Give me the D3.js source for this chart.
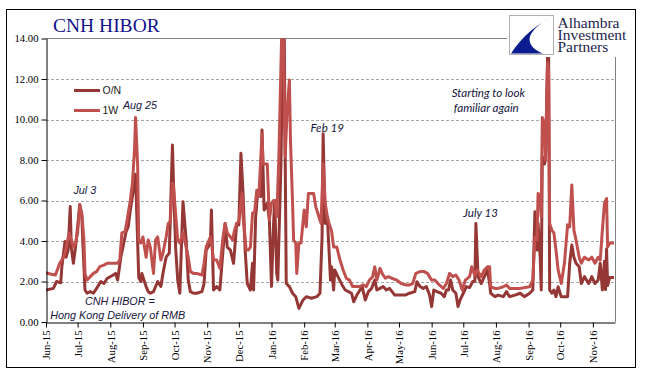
<!DOCTYPE html>
<html><head><meta charset="utf-8">
<script src="https://cdn.jsdelivr.net/npm/d3@7/dist/d3.min.js"></script>
<style>body{margin:0;background:#fff}</style>
</head><body>
<svg id="c" width="645" height="379"></svg>
<script>
const chartTitle = "CNH HIBOR";
const seriesNames = ["O/N", "1W"];
const yTicks = [0, 2, 4, 6, 8, 10, 12, 14];
const xStart = "2015-06-01", xEnd = "2016-11-22";
const logoLines = ["Alhambra", "Investment", "Partners"];

const onData = [["2015-06-01",1.58],["2015-06-08",1.66],["2015-06-11",2.0],["2015-06-15",1.94],["2015-06-16",2.7],["2015-06-19",3.97],["2015-06-20",3.2],["2015-06-22",3.55],["2015-06-24",5.7],["2015-06-25",3.7],["2015-06-27",2.9],["2015-06-29",3.7],["2015-07-01",4.7],["2015-07-03",5.8],["2015-07-05",5.2],["2015-07-06",3.9],["2015-07-08",1.58],["2015-07-10",1.42],["2015-07-13",1.5],["2015-07-16",1.42],["2015-07-19",1.66],["2015-07-21",1.83],["2015-07-23",2.0],["2015-07-26",1.9],["2015-07-29",2.15],["2015-08-03",2.3],["2015-08-06",2.4],["2015-08-08",2.07],["2015-08-11",3.2],["2015-08-13",3.7],["2015-08-16",4.46],["2015-08-18",4.7],["2015-08-20",5.5],["2015-08-22",6.2],["2015-08-24",6.85],["2015-08-25",7.3],["2015-08-28",2.2],["2015-08-30",2.0],["2015-08-31",2.4],["2015-09-02",2.07],["2015-09-04",1.75],["2015-09-06",1.5],["2015-09-08",1.42],["2015-09-11",1.5],["2015-09-15",2.0],["2015-09-18",1.75],["2015-09-20",2.4],["2015-09-23",3.2],["2015-09-26",3.4],["2015-09-29",8.74],["2015-09-30",6.85],["2015-10-02",3.7],["2015-10-04",2.07],["2015-10-06",1.42],["2015-10-09",5.94],["2015-10-12",4.05],["2015-10-14",2.07],["2015-10-16",1.5],["2015-10-19",1.42],["2015-10-22",1.42],["2015-10-27",1.5],["2015-10-29",1.9],["2015-10-31",3.55],["2015-11-04",3.9],["2015-11-05",5.53],["2015-11-07",1.58],["2015-11-10",1.75],["2015-11-13",1.58],["2015-11-16",3.55],["2015-11-18",4.87],["2015-11-20",3.7],["2015-11-23",3.55],["2015-11-26",2.9],["2015-11-29",4.87],["2015-12-01",4.8],["2015-12-03",8.33],["2015-12-05",6.35],["2015-12-07",3.55],["2015-12-09",1.9],["2015-12-12",1.58],["2015-12-14",2.9],["2015-12-15",1.58],["2015-12-17",5.2],["2015-12-19",6.5],["2015-12-22",6.2],["2015-12-23",9.48],["2015-12-25",5.53],["2015-12-28",5.86],["2015-12-30",5.04],["2016-01-01",1.75],["2016-01-03",4.87],["2016-01-04",6.0],["2016-01-06",2.4],["2016-01-07",2.07],["2016-01-10",7.8],["2016-01-12",15],["2016-01-13",15],["2016-01-14",8.2],["2016-01-15",1.9],["2016-01-18",1.75],["2016-01-21",1.42],["2016-01-24",1.25],["2016-01-27",0.67],["2016-01-31",1.09],["2016-02-03",1.25],["2016-02-08",1.17],["2016-02-13",1.25],["2016-02-16",1.42],["2016-02-18",4.2],["2016-02-19",9.3],["2016-02-21",4.87],["2016-02-23",5.2],["2016-02-26",2.07],["2016-02-27",2.73],["2016-02-29",1.58],["2016-03-01",2.57],["2016-03-04",2.24],["2016-03-08",1.83],["2016-03-11",1.58],["2016-03-14",1.5],["2016-03-17",1.42],["2016-03-19",1.0],["2016-03-22",1.33],["2016-03-25",1.58],["2016-03-27",1.75],["2016-03-30",1.09],["2016-04-02",1.5],["2016-04-05",1.66],["2016-04-08",2.07],["2016-04-10",1.58],["2016-04-13",1.66],["2016-04-16",1.75],["2016-04-19",1.58],["2016-04-22",1.66],["2016-04-27",1.33],["2016-05-02",1.33],["2016-05-07",1.33],["2016-05-11",1.42],["2016-05-16",1.5],["2016-05-18",1.99],["2016-05-21",1.75],["2016-05-24",1.66],["2016-05-27",1.75],["2016-05-30",1.33],["2016-06-01",0.76],["2016-06-03",1.58],["2016-06-06",1.5],["2016-06-10",1.42],["2016-06-13",1.25],["2016-06-15",1.58],["2016-06-17",1.58],["2016-06-19",2.07],["2016-06-21",1.58],["2016-06-24",1.42],["2016-06-26",0.76],["2016-06-28",1.09],["2016-07-01",1.42],["2016-07-04",1.75],["2016-07-07",1.7],["2016-07-10",2.0],["2016-07-12",2.0],["2016-07-13",4.87],["2016-07-15",2.24],["2016-07-18",1.9],["2016-07-21",2.24],["2016-07-24",2.57],["2016-07-26",1.9],["2016-07-27",1.42],["2016-07-31",1.25],["2016-08-03",1.33],["2016-08-08",1.25],["2016-08-11",1.5],["2016-08-14",1.25],["2016-08-19",1.33],["2016-08-24",1.42],["2016-08-28",1.25],["2016-09-02",1.42],["2016-09-05",1.58],["2016-09-07",5.45],["2016-09-09",3.55],["2016-09-10",4.87],["2016-09-12",3.2],["2016-09-13",1.58],["2016-09-14",8.16],["2016-09-16",7.8],["2016-09-17",8.0],["2016-09-19",13.1],["2016-09-20",13.1],["2016-09-21",1.58],["2016-09-23",1.42],["2016-09-25",1.58],["2016-09-27",1.25],["2016-09-29",1.74],["2016-10-02",1.25],["2016-10-05",1.25],["2016-10-08",1.25],["2016-10-10",2.9],["2016-10-12",3.8],["2016-10-14",3.2],["2016-10-16",2.9],["2016-10-19",2.73],["2016-10-21",1.9],["2016-10-24",2.24],["2016-10-28",1.9],["2016-10-31",2.24],["2016-11-03",1.9],["2016-11-06",2.07],["2016-11-08",2.9],["2016-11-10",1.58],["2016-11-12",3.0],["2016-11-13",1.6],["2016-11-14",3.6],["2016-11-15",1.8],["2016-11-17",2.2],["2016-11-21",2.2]];

const w1Data = [["2015-06-01",2.44],["2015-06-05",2.37],["2015-06-10",2.32],["2015-06-14",2.9],["2015-06-16",3.06],["2015-06-19",3.4],["2015-06-21",3.9],["2015-06-23",4.4],["2015-06-25",4.05],["2015-06-27",3.7],["2015-06-29",3.9],["2015-07-01",4.4],["2015-07-03",5.78],["2015-07-05",5.37],["2015-07-07",4.05],["2015-07-08",2.4],["2015-07-10",2.07],["2015-07-13",2.24],["2015-07-16",2.4],["2015-07-19",2.49],["2015-07-22",2.73],["2015-07-26",2.81],["2015-07-29",2.9],["2015-08-03",2.9],["2015-08-08",2.9],["2015-08-10",3.06],["2015-08-12",4.4],["2015-08-15",4.46],["2015-08-17",5.04],["2015-08-20",6.0],["2015-08-22",6.85],["2015-08-24",8.5],["2015-08-25",10.1],["2015-08-27",7.7],["2015-08-28",4.05],["2015-08-30",3.9],["2015-09-01",4.2],["2015-09-04",3.2],["2015-09-06",4.05],["2015-09-08",3.7],["2015-09-11",2.4],["2015-09-13",4.05],["2015-09-15",4.2],["2015-09-18",3.06],["2015-09-20",3.4],["2015-09-23",4.2],["2015-09-25",4.87],["2015-09-27",4.95],["2015-09-29",6.85],["2015-09-30",6.7],["2015-10-02",5.37],["2015-10-04",4.05],["2015-10-06",3.9],["2015-10-09",4.4],["2015-10-12",3.7],["2015-10-14",3.2],["2015-10-16",2.49],["2015-10-19",2.4],["2015-10-22",2.4],["2015-10-27",2.32],["2015-10-29",2.9],["2015-10-31",3.7],["2015-11-04",4.2],["2015-11-05",3.9],["2015-11-07",3.06],["2015-11-10",3.06],["2015-11-13",2.65],["2015-11-16",4.2],["2015-11-18",4.87],["2015-11-20",4.4],["2015-11-23",4.2],["2015-11-25",4.05],["2015-11-27",4.54],["2015-11-29",4.87],["2015-12-01",4.95],["2015-12-04",6.35],["2015-12-05",5.2],["2015-12-08",3.55],["2015-12-10",3.55],["2015-12-12",3.7],["2015-12-14",5.37],["2015-12-16",5.45],["2015-12-18",6.5],["2015-12-20",6.2],["2015-12-23",9.3],["2015-12-24",7.8],["2015-12-26",7.8],["2015-12-28",7.8],["2015-12-30",5.04],["2016-01-01",5.86],["2016-01-03",6.0],["2016-01-04",6.0],["2016-01-06",5.2],["2016-01-08",8.16],["2016-01-11",15],["2016-01-12",15],["2016-01-14",8.16],["2016-01-16",10.6],["2016-01-18",11.95],["2016-01-19",9.0],["2016-01-21",5.86],["2016-01-22",4.05],["2016-01-24",3.9],["2016-01-25",2.4],["2016-01-27",3.9],["2016-01-29",3.9],["2016-02-01",5.53],["2016-02-03",4.7],["2016-02-05",6.35],["2016-02-08",6.35],["2016-02-10",6.35],["2016-02-12",5.7],["2016-02-15",5.2],["2016-02-17",4.87],["2016-02-19",7.8],["2016-02-21",5.86],["2016-02-23",5.2],["2016-02-25",4.8],["2016-02-27",4.5],["2016-02-29",3.7],["2016-03-01",3.7],["2016-03-03",3.7],["2016-03-06",3.06],["2016-03-09",2.57],["2016-03-12",2.16],["2016-03-15",2.07],["2016-03-18",1.75],["2016-03-22",1.75],["2016-03-25",1.75],["2016-03-28",1.83],["2016-03-31",1.75],["2016-04-03",2.07],["2016-04-06",2.24],["2016-04-08",2.73],["2016-04-10",2.07],["2016-04-13",2.65],["2016-04-15",2.4],["2016-04-18",2.16],["2016-04-21",2.24],["2016-04-24",2.16],["2016-04-29",2.07],["2016-05-03",1.9],["2016-05-08",1.83],["2016-05-11",1.83],["2016-05-14",1.9],["2016-05-17",2.4],["2016-05-21",2.49],["2016-05-25",2.49],["2016-05-28",2.4],["2016-06-01",2.07],["2016-06-04",2.07],["2016-06-07",1.9],["2016-06-12",1.66],["2016-06-15",1.9],["2016-06-18",2.4],["2016-06-21",2.24],["2016-06-24",2.32],["2016-06-27",2.07],["2016-06-30",1.58],["2016-07-03",2.07],["2016-07-07",2.24],["2016-07-09",2.73],["2016-07-12",2.3],["2016-07-14",2.57],["2016-07-18",2.24],["2016-07-21",2.57],["2016-07-24",2.73],["2016-07-26",2.73],["2016-07-27",1.74],["2016-07-31",1.66],["2016-08-03",1.66],["2016-08-08",1.74],["2016-08-11",1.82],["2016-08-14",1.66],["2016-08-24",1.66],["2016-09-02",1.74],["2016-09-05",2.07],["2016-09-07",4.2],["2016-09-09",4.05],["2016-09-10",6.35],["2016-09-12",6.2],["2016-09-13",5.2],["2016-09-14",10.1],["2016-09-16",9.8],["2016-09-17",8.0],["2016-09-19",12.8],["2016-09-20",12.4],["2016-09-21",4.87],["2016-09-23",4.54],["2016-09-25",4.4],["2016-09-27",3.55],["2016-09-29",2.57],["2016-10-02",1.9],["2016-10-05",2.9],["2016-10-08",4.8],["2016-10-10",4.7],["2016-10-12",6.77],["2016-10-14",4.54],["2016-10-16",4.05],["2016-10-19",3.2],["2016-10-21",2.9],["2016-10-24",3.2],["2016-10-28",3.06],["2016-10-31",3.2],["2016-11-03",2.9],["2016-11-06",3.2],["2016-11-08",3.06],["2016-11-10",4.54],["2016-11-12",5.86],["2016-11-14",6.1],["2016-11-15",3.7],["2016-11-17",3.9],["2016-11-21",3.9]];

const annotations = [
  {text: "Aug 25", x: "2015-08-13", y: 10.5, font: "a"},
  {text: "Jul 3", x: "2015-06-27", y: 6.3, font: "a"},
  {text: "Feb 19", x: "2016-02-07", y: 9.4, font: "b"},
  {text: "July 13", x: "2016-07-01", y: 5.2, font: "b"},
  {text: "Starting to look", x: "2016-06-20", y: 11.1, font: "b"},
  {text: "familiar again", x: "2016-06-22", y: 10.35, font: "b"},
  {text: "CNH HIBOR =", x: "2015-07-08", y: 0.83, font: "a"},
  {text: "Hong Kong Delivery of RMB", x: "2015-06-05", y: 0.15, font: "a"}
];

const colors = {"O/N": "#953735", "1W": "#C0504D"};
const parse = d3.timeParse("%Y-%m-%d");

const svg = d3.select("#c");
const L = 46, R = 615, T = 38.5, B = 322;
const x = d3.scaleTime().domain([parse(xStart), parse(xEnd)]).range([L, R]);
const y = d3.scaleLinear().domain([0, 14]).range([B, T]);

// outer frame
svg.append("rect").attr("x", 6.5).attr("y", 9.5).attr("width", 629).attr("height", 358)
  .attr("fill", "#fff").attr("stroke", "#000").attr("stroke-width", 1);

// gridlines
svg.append("g").selectAll("line").data(yTicks.filter(v => v > 0 && v < 14)).join("line")
  .attr("x1", L).attr("x2", R).attr("y1", d => Math.round(y(d)) + 0.5).attr("y2", d => Math.round(y(d)) + 0.5)
  .attr("stroke", "#a6a6a6").attr("stroke-dasharray", "3,2").attr("stroke-width", 1);
// top and right border
svg.append("line").attr("x1", L).attr("x2", R).attr("y1", y(14)).attr("y2", y(14)).attr("stroke", "#808080");
svg.append("line").attr("x1", R + 0.5).attr("x2", R + 0.5).attr("y1", y(14)).attr("y2", B).attr("stroke", "#808080");

// clip
svg.append("clipPath").attr("id", "clip").append("rect").attr("x", L).attr("y", y(14)).attr("width", R - L).attr("height", B - y(14));

const line = d3.line().x(d => x(parse(d[0]))).y(d => y(d[1]));
const g = svg.append("g").attr("clip-path", "url(#clip)");
g.append("path").datum(onData).attr("d", line).attr("fill", "none").attr("stroke", colors["O/N"]).attr("stroke-width", 3).attr("stroke-linejoin", "round");
g.append("path").datum(w1Data).attr("d", line).attr("fill", "none").attr("stroke", colors["1W"]).attr("stroke-width", 3).attr("stroke-linejoin", "round");

// axes
const serif = "'Liberation Serif','Times New Roman',serif";
const yAxis = svg.append("g").attr("transform", `translate(${L + 0.5},0)`)
  .call(d3.axisLeft(y).tickValues(yTicks).tickFormat(d3.format(".2f")).tickSize(5).tickSizeOuter(0));
yAxis.select(".domain").attr("stroke", "#000");
yAxis.selectAll("text").attr("font-family", serif).attr("font-size", "10.7px").attr("fill", "#000").attr("x", -8);

const months = d3.timeMonth.range(parse("2015-06-01"), parse("2016-11-02"));
const xAxis = svg.append("g").attr("transform", `translate(0,${B + 0.5})`)
  .call(d3.axisBottom(x).tickValues(months).tickFormat(d3.timeFormat("%b-%y")).tickSize(5).tickSizeOuter(0));
xAxis.select(".domain").attr("stroke", "#000");
xAxis.selectAll("text").attr("font-family", serif).attr("font-size", "10.7px").attr("fill", "#000")
  .attr("transform", "rotate(-90)").attr("text-anchor", "end").attr("x", -8).attr("y", 0).attr("dy", "0.35em");

// title
svg.append("text").attr("x", 53).attr("y", 31.5).text(chartTitle)
  .attr("font-family", serif).attr("font-size", "19.5px").attr("fill", "#12128a");

// legend
seriesNames.forEach((n, i) => {
  const ly = 90.5 + i * 20;
  svg.append("line").attr("x1", 74).attr("x2", 100).attr("y1", ly).attr("y2", ly).attr("stroke", colors[n]).attr("stroke-width", 3);
  svg.append("text").attr("x", 102.5).attr("y", ly + 3.8).text(n).attr("font-family", "'Liberation Sans',Arial,sans-serif").attr("font-size", "10.5px").attr("fill", "#222");
});

// annotations
annotations.forEach(a => {
  svg.append("text").attr("x", x(parse(a.x))).attr("y", y(a.y)).text(a.text)
    .attr("font-family", a.font === "a" ? "'Liberation Sans',Arial,sans-serif" : "Lato,'Liberation Sans',sans-serif")
    .attr("font-style", "italic").attr("font-size", a.font === "a" ? "10.8px" : "11.6px").attr("fill", "#161640");
});

// logo
const lg = svg.append("g");
lg.append("rect").attr("x", 507).attr("y", 11).attr("width", 128).attr("height", 46).attr("fill", "#fff");
lg.append("rect").attr("x", 509.5).attr("y", 15.5).attr("width", 44).attr("height", 39).attr("fill", "#fff").attr("stroke", "#b0b0b0");
lg.append("path").attr("d", "M552,17 C538,24 522,36 511,53.5 L543,53.5 C531,49 527,41 531,34 C536,26 544,21 552,17 Z").attr("fill", "#0b1d8e");
const logoText = lg.append("text").attr("font-family", serif).attr("font-size", "15.5px").attr("fill", "#1e1e4e");
logoLines.forEach((t, i) => {
  logoText.append("tspan").attr("x", 557.5).attr("y", 27.5 + i * 12.3).text(t);
});
</script>
</body></html>
